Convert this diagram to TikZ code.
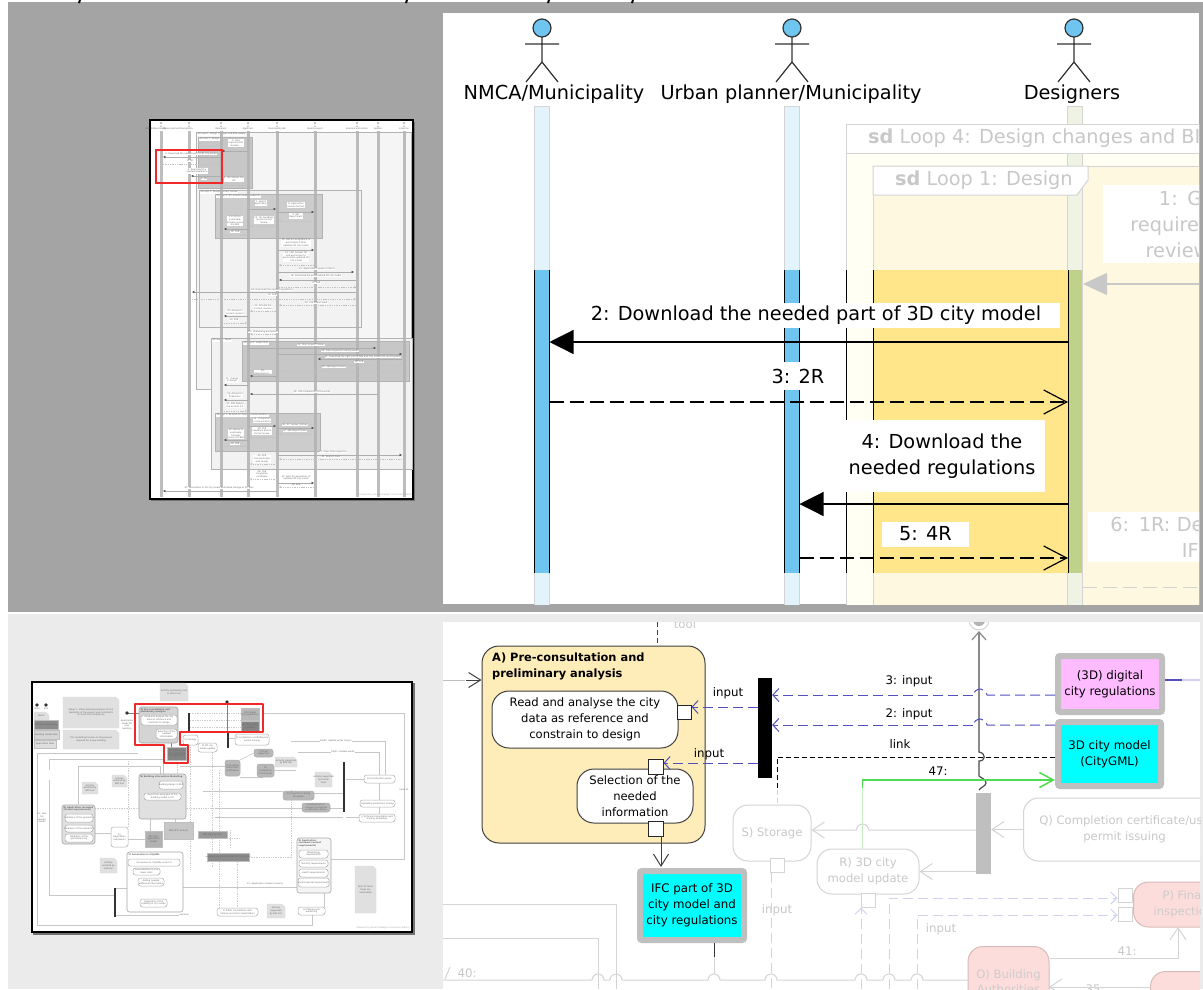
\documentclass[tikz,border=0pt]{standalone}
\usepackage{fontspec}
\setmainfont{DejaVu Sans}
\usetikzlibrary{arrows.meta,positioning,calc}
\definecolor{panelgray}{HTML}{A4A4A4}
\definecolor{lightpanel}{HTML}{EBEBEB}
\definecolor{lifeblue}{HTML}{6EC6F0}
\definecolor{paleblue}{HTML}{E3F3FB}
\definecolor{lifegreen}{HTML}{C0D28A}
\definecolor{palegreen}{HTML}{EEF3E3}
\definecolor{hotyellow}{HTML}{FFE68A}
\definecolor{paleyellow}{HTML}{FFF8E1}
\definecolor{paleframe}{HTML}{FFFFF3}
\definecolor{dimtext}{HTML}{C8C8C8}
\definecolor{dimline}{HTML}{D4D4D4}
\definecolor{groupfill}{HTML}{FEEDB8}
\definecolor{flowblue}{HTML}{5050C0}
\definecolor{paleflow}{HTML}{D0D0F4}
\definecolor{flowgreen}{HTML}{50DC50}
\definecolor{palegreenflow}{HTML}{C4F2C4}
\definecolor{paleread}{HTML}{FDDDDB}
\definecolor{thumbred}{HTML}{F02828}
\definecolor{datacyan}{RGB}{0,255,255}
\definecolor{datapink}{HTML}{FFBBFF}
\tikzset{
  thumbtext/.style={font=\fontsize{2.2}{2.7}\selectfont, text=black!60, align=center, inner sep=0.3pt, fill=white},
  thumbbare/.style={thumbtext, fill=none},
  thumbmsg/.style={draw=black!32, line width=0.7pt, -{Latex[length=2.4pt,width=2.6pt,black!70]}},
  thumbret/.style={draw=black!24, line width=0.6pt, dash pattern=on 1.4pt off 0.9pt, -{Straight Barb[length=1.5pt,width=2pt]}},
  thumbwire/.style={draw=black!22, line width=0.5pt},
  thumbdash/.style={draw=black!20, line width=0.5pt, dash pattern=on 1.4pt off 1pt},
  thumbact/.style={draw=black!32, line width=0.5pt, fill=white, rounded corners=2.5pt},
  thumbgrp/.style={draw=black!35, line width=0.6pt, fill=black!17, rounded corners=2.5pt},
  thumbnote/.style={draw=black!14, line width=0.3pt, fill=black!12},
  seqlabel/.style={font=\fontsize{19.3}{26}\selectfont, align=center, inner sep=0pt},
  labelbox/.style={fill=white},
  seqsolid/.style={draw=black, line width=1.2pt, -{Triangle[length=24pt,width=24pt]}},
  seqdash/.style={draw=black, line width=1.2pt, dash pattern=on 14pt off 6pt, -{Straight Barb[length=23pt,width=24pt]}},
  actbox/.style={draw=black!75, line width=1pt, fill=white, rounded corners=17pt, align=center, font=\fontsize{11.6}{16}\selectfont},
  dimbox/.style={draw=dimline, line width=1pt, fill=white, rounded corners=15pt, align=center, text=dimtext, font=\fontsize{11.6}{15.5}\selectfont},
  pinbox/.style={draw=black!85, line width=1pt, fill=white, minimum size=14pt, inner sep=0pt},
  dimpin/.style={pinbox, draw=dimline},
  datanode/.style={draw=black!25, line width=6pt, rounded corners=2pt, align=center, font=\fontsize{11.8}{16}\selectfont},
  flowlabel/.style={font=\fontsize{11.8}{14}\selectfont, inner sep=0pt},
  dimlabel/.style={flowlabel, text=dimtext},
  blueflow/.style={draw=flowblue, line width=1pt, dash pattern=on 10pt off 5pt, -{Straight Barb[length=6pt,width=13pt]}},
  paleflowline/.style={draw=paleflow, line width=1pt, dash pattern=on 10pt off 5pt},
  dimwire/.style={draw=dimline, line width=1pt},
  dimarrow/.style={dimwire, -{Straight Barb[length=12pt,width=16pt]}},
}
\begin{document}
\begin{tikzpicture}[x=1pt,y=-1pt]
\useasboundingbox (0,0) rectangle (1203,989);
\fill[white] (0,0) rectangle (1203,989);
% panels
\fill[panelgray] (8,2) rectangle (1203,612);
\fill[lightpanel] (8,614) rectangle (1203,989);
\foreach \tx in {80,407,549,633} \draw[line width=2pt] (\tx,0) -- (\tx-1,3);

% ---- small sequence page
\fill[black!55] (151,122) rectangle (415,501);
\draw[black, line width=2.5pt, fill=white] (150,120) rectangle (413,499);
\foreach \xa/\ya/\xb/\yb/\shade/\lab in {
  196/132/411/389/4/{sd Loop 4: Design changes and BIM update},
  199/190/361/327/5/{sd Loop 2: Design content review},
  211/338/412/469/5/{sd Loop 5: Works},
  198/137/252/188/22/{sd Loop 1: Design},
  215/194/322/238/20/{sd Loop 3: IFC formal review (evidence)},
  242/341/409/381/22/{sd Loop 6: Inspections},
  215/413/320/451/20/{sd Loop 7: as-built IFC formal review/validation}} {
  \draw[draw=black!30, line width=0.5pt, fill=black!\shade] (\xa,\ya) rectangle (\xb,\yb);
  \node[thumbtext, anchor=north west] at (\xa+1,\ya+0.6) {\lab};
}
\foreach \lx in {161,189,221,248,277,315,357,378,404} {
  \fill[black!30, opacity=0.85] (\lx-1.5,131) rectangle (\lx+1.5,497);
  \draw[black!35, line width=0.3pt, fill=white] (\lx,123) circle (0.9pt);
  \draw[black!35, line width=0.3pt] (\lx,124) -- (\lx,126) (\lx-1.3,127) -- (\lx,126) -- (\lx+1.3,127);
}
\foreach \lx/\lab in {156/{NMCA/Municipality},178/{Urban planner/Municipality},221/Designers,248/Applicant,277/{Municipality BE},315/{Quality expert},357/{External authorities},378/Builder,404/Inspector}
  \node[thumbbare] at (\lx,129) {\lab};
% solid messages
\foreach \my/\xa/\xb/\lx/\ly/\lab in {
  151/248/222/236/143/{1: Give\\requirements\\reviews ...},
  157/221/163/191/154/{2: Download the needed part of 3D city model},
  176/221/191/197/171/{4: Download the\\needed regulations},
  209/248/276/261/203/{7: submit\\application},
  212/278/314/296/205/{8: Application\\review (formal)},
  229/248/224/235/221/{11: Info to\\eventually\\formally revise\\the BIM},
  250/278/314/296/243/{13: Ask for acceptance to\\personalize 3 final\\updated 3D city model},
  272/278/354/317/269/{15: Application review (content)},
  280/356/279/316/276/{16: Download the personalized 3D city model},
  292/356/192/272/290/{18: Download the needed regulations},
  316/248/224/235/312/{22: Advise for\\content revision},
  348/248/376/311/345/{25: Start inspect. Works},
  354/278/402/340/351/{26: Plans inspection during works},
  359/402/318/363/357/{27: Download the right part of BIM and City model (IFC and CityGML)},
  376/277/250/263/372/{30:\\Amendments ...},
  385/248/224/232/380/{31: change\\in design},
  394/378/250/312/392/{32: 25R Completion of the works},
  400/248/224/235/395/{33: Advise for\\finalisation},
  426/248/276/262/420/{35: Completion\\communication},
  428/278/314/295/425/{36: IFC review (formal)},
  440/248/224/236/434/{39: Advise to\\eventually\\formally\\revise the BIM},
  455/278/402/333/452/{41: Plans final inspection},
  483/278/314/296/478/{45: Asks for generation of\\updated 3D city model},
  491/277/163/219/488/{47: Generation of 3D city model and linked storage of IFC files}} {
  \draw[thumbmsg] (\xa,\my) -- (\xb,\my);
  \node[thumbtext] at (\lx,\ly) {\lab};
}
% dashed replies
\foreach \my/\xa/\xb/\lx/\ly/\lab in {
  164/163/221/190/161/{3: 2R},
  182/191/221/204/179/{5: 4R},
  185/222/247/234/179/{6: 1R: Deliver the\\IFC},
  221/314/279/296/216/{9: 8R:\\Report back},
  226/276/250/264/220/{10: 7R: Feedback\\and its formal\\review},
  235/224/246/235/232/{12: 11R},
  265/314/279/296/257/{14: 13R: Answer OK\\and permission to\\personalize updated 3D\\city model},
  287/279/356/316/283/{17: 16R},
  299/192/356/272/295/{19: 18R},
  305/356/279/316/303/{20: 15R Report back},
  311/278/250/263/307/{21: Provide the\\content revision},
  323/224/247/234/320/{23: 22R},
  334/278/250/263/332/{24: 7R Building permission},
  365/318/402/359/362/{28: 27R},
  371/402/280/334/367/{29: 26R Reports back},
  411/224/247/235/405/{34: 33R Deliver\\the as-built IFC},
  434/314/279/295/431/{37: 36R Reports back},
  437/276/250/262/431/{38: 35R\\Feedback and its\\formal review},
  446/224/247/235/444/{40: 39R},
  459/402/279/331/457/{42: Reports back},
  464/277/250/262/459/{43: 41R\\Communicates\\with design},
  479/277/250/262/474/{44: 35R\\completion\\certificate},
  487/314/279/296/485/{46: 45R}} {
  \draw[thumbret] (\xa,\my) -- (\xb,\my);
  \node[thumbtext] at (\lx,\ly) {\lab};
}
\node[thumbbare, text=black!35] (seqfoot) at (386,495) {Powered by Visual Paradigm Community Edition};
\draw[thumbred, line width=1.2pt] (156,150) rectangle (222,183);

% ---- zoomed sequence view
\begin{scope}
\clip (443,13) rectangle (1199,604);
\fill[white] (443,13) rectangle (1199,604);
\draw[dimline, fill=paleframe] (846,124) rectangle (1210,620);
\draw[dimline, fill=paleyellow] (873,166) rectangle (1210,620);
\foreach \lx/\bar/\edge in {542/paleblue/dimline,792/paleblue/dimline,1075/palegreen/dimline}
  \draw[\edge, fill=\bar] (\lx-7.5,106) rectangle (\lx+7.5,610);
% loop headers
\draw[dimline, line width=1pt, fill=white] (846,124) rectangle (1210,153);
\node[dimlabel, font=\fontsize{19.3}{22}\selectfont, anchor=west] (loopfour) at (868,138) {\textbf{sd} Loop 4: Design changes and BIM update};
\draw[dimline, line width=1pt, fill=white] (873,166) -- (1088,166) -- (1088,180) -- (1077,195) -- (873,195) -- cycle;
\node[dimlabel, font=\fontsize{19.3}{22}\selectfont, anchor=west] (loopone) at (895,180) {\textbf{sd} Loop 1: Design};
% active part of the picture
\fill[white] (443,270) rectangle (846,573);
\fill[paleframe] (846,270) rectangle (873,573);
\fill[hotyellow] (873,270) rectangle (1068,573);
\fill[lifeblue] (534.5,270) rectangle (549.5,573);
\fill[lifeblue] (784.5,270) rectangle (799.5,573);
\draw[black, line width=1.2pt] (534.5,270) -- (534.5,573) (549.5,270) -- (549.5,573) (784.5,270) -- (784.5,573) (799.5,270) -- (799.5,573);
\fill[lifegreen] (1068,270) rectangle (1082,573);
\draw[black, line width=1pt] (846,270) -- (846,573) (873,270) -- (873,573) (1068,270) -- (1068,573);
% dimmed messages
\node[seqlabel, labelbox, text=dimtext, text width=184pt, inner ysep=6pt] (msgone) at (1195,224) {1: Give\\requirements\\reviews ...};
\draw[dimtext, line width=1.2pt, -{Triangle[length=24pt,width=22pt]}] (1210,284) -- (1083,284);
\node[seqlabel, labelbox, text=dimtext, text width=218pt, inner ysep=5pt] (msgsix) at (1197,537) {6: 1R: Deliver the\\IFC};
\draw[dimline, line width=1pt, dash pattern=on 14pt off 6pt] (1083,587) -- (1210,587);
% messages in colour
\coordinate (nmcaend) at (549.5,342);
\coordinate (planend) at (799.5,504);
\draw[seqsolid] (1068,342) -- (nmcaend);
\draw[seqdash] (549.5,402) -- (1068,402);
\draw[seqsolid] (1068,504) -- (planend);
\draw[seqdash] (799.5,558) -- (1068,558);
\node[seqlabel, labelbox, minimum width=488pt, minimum height=25pt] (msgtwo) at (816,315) {2: Download the needed part of 3D city model};
\node[seqlabel, labelbox, minimum width=60pt, minimum height=28pt] (msgthree) at (798,376) {3: 2R};
\node[seqlabel, labelbox, minimum width=206pt, minimum height=72pt] (msgfour) at (942,456) {4: Download the\\needed regulations};
\node[seqlabel, labelbox, minimum width=87pt, minimum height=25pt] (msgfive) at (925.5,534) {5: 4R};
% actors
\foreach \ax in {542,792,1074} {
  \draw[black!80, line width=1.2pt, fill=lifeblue] (\ax,28) circle (9pt);
  \draw[black!80, line width=1.2pt] (\ax,37) -- (\ax,62) (\ax-17,44) -- (\ax+17,44) (\ax-16,82) -- (\ax,62) -- (\ax+16,82);
}
\node[seqlabel] (nmca) at (554,94) {NMCA/Municipality};
\node[seqlabel] (planner) at (791,94) {Urban planner/Municipality};
\node[seqlabel] (designers) at (1072,94) {Designers};
\end{scope}

% ---- small activity page
\fill[black!55] (33,683) rectangle (415,935);
\draw[black, line width=2.2pt, fill=white] (32,682) rectangle (412,932);
% wires
\foreach \pts in {
  {(49,770)--(49,759)--(163,759)--(163,774)},
  {(78,804)--(78,766)--(160,766)--(160,774)},
  {(37,753)--(37,925)--(312,925)--(312,915)},
  {(37,753)--(138,753)},
  {(49,780)--(49,895)--(114,895)},
  {(180,766)--(230,766)},
  {(263,713)--(404,713)--(404,859)--(331,859)},
  {(298,752)--(379,752)--(379,775)},
  {(291,741)--(385,741)--(385,775)},
  {(379,783)--(379,800)},{(379,807)--(379,814)},
  {(346,779)--(364,779)},{(330,808)--(343,808)},{(346,817)--(359,817)},{(314,793)--(343,793)},
  {(215,808)--(302,808)},{(215,817)--(343,817)},
  {(183,887)--(297,887)},{(324,887)--(324,907)},
  {(95,833)--(111,833)},{(128,839)--(145,839)},
  {(150,817)--(150,831)},{(175,808)--(175,822)},
  {(114,915)--(183,915)},{(116,888)--(127,888)},
  {(263,777)--(240,777)},{(254,753)--(240,760)},{(229,738)--(235,738)},
  {(203,791)--(283,791)},{(274,770)--(296,770)}} \draw[thumbwire] \pts;
\foreach \pts in {
  {(190,747)--(190,870)},{(212,750)--(212,867)},{(219,770)--(219,908)},
  {(177,762)--(177,774)},{(95,808)--(215,808)},
  {(249,857)--(291,857)--(291,790)},{(230,848)--(230,830)},{(237,862)--(237,908)},
  {(128,827)--(128,760)},{(198,838)--(240,838)},
  {(190,713)--(241,713)},{(190,720)--(241,720)},{(190,727)--(241,727)}} \draw[thumbdash] \pts;
\draw[black!50, line width=0.5pt] (227,702) -- (227,733) (127,713) -- (139,713) (171,743) -- (171,747);
% notes
\foreach \xa/\ya/\xb/\yb/\lab in {
  63/697/119/728/{Stage 1: Urban planning analysis for the\\feasibility of the project and constraints\\to check the compliance},
  63/730/119/749/{This modelling focuses on the process\\required for a new building},
  160/683/188/701/{Activity assisted by GIS\\or other tool},
  34/712/49/720/{Notes},
  315/772/332/787/{Activity supported\\by formal\\tools},
  275/757/297/767/{Activity supported\\by BIM tool},
  355/866/376/913/{Parts of these\\steps are\\automated},
  267/904/285/918/{Activity\\supported\\by GIS tool},
  100/858/117/873/{Activity\\assisted by\\GIS tool},
  82/782/98/794/{Activity\\assisted by\\BIM tool},
  112/775/127/787/{Activity\\assisted by\\BIM tool}} {
  \draw[thumbnote] (\xa,\ya) -- (\xb-3,\ya) -- (\xb,\ya+3) -- (\xb,\yb) -- (\xa,\yb) -- cycle;
  \path (\xa,\ya) -- node[thumbbare]{\lab} (\xb,\yb);
}
% data blocks
\foreach \xa/\ya/\xb/\yb/\shade/\lab in {
  34/720/58/729/45/{BIM (3D) model data},
  34/730/59/739/16/{Building model data},
  34/740/56/748/13/{Application data},
  167/747/186/760/48/{IFC part of 3D\\city model and\\city regulations},
  241/708/259/720/28/{(3D) digital\\city regulations},
  241/721/259/732/48/{3D city model\\(CityGML)},
  164/822/193/839/22/{BIM (IFC) as built},
  145/831/162/847/30/{BIM (IFC)\\application\\model},
  198/831/227/838/40/{BIM (IFC) as built},
  207/853/249/861/45/{updated and personalized 3D city model}} {
  \draw[draw=black!25, line width=0.7pt, fill=black!\shade] (\xa,\ya) rectangle (\xb,\yb);
  \path (\xa,\ya) -- node[thumbbare]{\lab} (\xb,\yb);
}
% groups
\foreach \xa/\ya/\xb/\yb/\fillval in {
  139/707/178/743/17,
  139/774/186/819/12,
  62/805/95/844/12,
  127/852/183/912/0,
  297/838/331/893/4}
  \draw[thumbgrp, fill=black!\fillval] (\xa,\ya) rectangle (\xb,\yb);
\node[thumbbare, anchor=north west, align=left] (grpa) at (140,708) {\textbf{A) Pre-consultation and}\\\textbf{preliminary analysis}};
\node[thumbbare, anchor=north west, align=left] (grpb) at (140,775) {\textbf{B) Building information Modelling}};
\node[thumbbare, anchor=north west, align=left] (grpd) at (63,806) {\textbf{D) Application reviewed}\\\textbf{(formal requirements)}};
\node[thumbbare, anchor=north west, align=left] (grpc) at (128,853) {\textbf{C) Generation in CityGML}};
\node[thumbbare, anchor=north west, align=left] (grpg) at (298,839) {\textbf{G) Application}\\\textbf{reviewed (content}\\\textbf{requirements)}};
% activities
\foreach \xa/\ya/\xb/\yb/\shade/\lab in {
  141/715/177/725/0/{Read and analyse the city\\data as reference and\\constrain to design},
  156/729/177/739/0/{Selection of the\\needed\\information},
  159/781/183/789/0/{Building design in BIM},
  144/793/181/800/0/{Export the used part of the\\building model in IFC},
  65/814/93/822/0/{Validation of the geometry},
  65/825/93/832/0/{Validation of the semantics},
  65/834/93/842/0/{Validation of the\\georeferencing},
  111/827/128/847/0/{E)\\Application\\submission},
  128/859/180/866/0/{Conversion to CityGML+LoD 3.0},
  133/868/160/875/0/{Generalization to the\\lower LoDs},
  138/878/164/886/0/{Adding needed\\additional information},
  140/899/167/907/0/{Integration of the\\building in city model},
  183/735/198/745/0/{S) Storage},
  198/743/217/752/0/{R) 3D city\\model update},
  235/734/269/745/0/{Q) Completion certificate/use\\permit issuing},
  254/749/273/757/28/{P) Final\\inspection},
  225/760/240/776/28/{O) Building\\Authorities\\notification},
  257/764/274/777/28/{N)\\Completion\\of the works},
  283/791/314/800/28/{M) Inspections during\\the works},
  302/803/330/812/28/{L) Refinement in\\changes throughout\\construction phase},
  364/775/395/783/0/{K) Construction works},
  360/800/395/807/0/{Uploading permission issuing},
  359/814/395/822/0/{J) Technical consultation and\\starting formalities},
  299/850/328/858/0/{Morphology\\requirements},
  299/860/328/867/0/{Security requirements},
  299/869/328/877/0/{Health requirements},
  298/878/329/887/0/{Environmental requirements},
  298/907/325/915/0/{H) Missing and\\publishing},
  217/908/258/916/0/{F) Public consultation with\\citizens and other stakeholders}} {
  \draw[thumbact, fill=black!\shade] (\xa,\ya) rectangle (\xb,\yb);
  \path (\xa,\ya) -- node[thumbbare]{\lab} (\xb,\yb);
}
% bars, start and end
\foreach \xa/\ya/\xb/\yb in {188/713/190/731,227/733/229/748,343/762/345/812,114/888/116/917}
  \fill[black!80] (\xa,\ya) rectangle (\xb,\yb);
\foreach \sx/\sy in {37/705,46/705,127/713,227/702}
  \fill[black!80] (\sx,\sy) circle (1.8pt);
\node[thumbbare] (startlab) at (127,725) {Application\\needs for\\new\\building};
\node[thumbbare] (startkey) at (37,709) {Start};
\node[thumbbare] (endkey) at (46,709) {End};
\node[thumbbare] (dlabel) at (42,818) {11: 10a:\\Yes\\regular\\model};
\node[thumbbare] (thumbinput) at (404,790) {input 55};
\node[thumbtext] at (265,884) {21: Application review (content)};
\node[thumbtext] at (336,741) {48/47: Update works (long 1};
\node[thumbtext] at (343,752) {50/51: Update works};
\node[thumbtext] at (184,915) {optional};
\node[thumbbare, text=black!35] (actfoot) at (383,928) {Powered by Visual Paradigm Community Edition};
\draw[thumbred, line width=1.4pt, line join=round] (135,704) -- (263,704) -- (263,732) -- (180,732) -- (180,745) -- (188,745) -- (188,763) -- (164,763) -- (164,745) -- (135,745) -- cycle;

% ---- zoomed activity view
\begin{scope}
\clip (443,622) rectangle (1200,989);
\fill[white] (443,622) rectangle (1200,989);
\node[dimlabel] (toollab) at (685,624) {tool};
% dimmed wires
\draw[dimwire] (443,904) -- (616,904) -- (616,989);
\draw[dimwire] (443,938) -- (598,938) -- (598,989);
\draw[dimwire] (443,980) -- (592,980) arc (180:360:6) -- (610,980) arc (180:360:6) -- (708,980) arc (180:360:6) -- (765,980) arc (180:360:6) -- (855,980) arc (180:360:6) -- (883,980) arc (180:360:6) -- (911,980) arc (180:360:6) -- (968,980);
\node[dimlabel] (fortylab) at (467,973) {40:};
\draw[dimline, line width=1pt] (450,967) -- (445,979);
\node[dimlabel] (inputs) at (777,910) {input};
\node[dimlabel] (inputp) at (941,929) {input};
\node[dimlabel] (fortyone) at (1127,951) {41:};
\node[dimlabel] (thirtyfive) at (1095,989) {35:};
% boxes that are dimmed
\node[dimbox, minimum width=78pt, minimum height=56pt] (storage) at (772,833) {S) Storage};
\node[dimbox, minimum width=102pt, minimum height=45pt] (update) at (868,871.5) {R) 3D city\\model update};
\node[dimbox, minimum width=202pt, minimum height=63pt, anchor=west] (certif) at (1023,829.5) {Q) Completion certificate/use\\permit issuing};
\node[dimbox, draw=paleread!85!black, fill=paleread, minimum width=100pt, minimum height=45pt, anchor=west, text=black!20] (finalinsp) at (1133,904.5) {P) Final\\inspection};
\node[dimbox, draw=paleread!85!black, fill=paleread, minimum width=81pt, minimum height=70pt, anchor=north, text=black!20] (authority) at (1008.5,946) {O) Building\\Authorities};
\node[dimbox, draw=paleread!85!black, fill=paleread, minimum width=90pt, minimum height=50pt, anchor=north west] (nextbox) at (1150,971) {};
\node[dimpin] (storepin) at (777,865.5) {};
\node[dimpin] (updatepin) at (868.5,900) {};
\node[dimpin] (finalpina) at (1125,895) {};
\node[dimpin] (finalpinb) at (1125,914.5) {};
\coordinate (flowbase) at (861,989);
\draw[paleflowline] (771,873) -- (771,989);
\draw[paleflowline, -{Straight Barb[length=6pt,width=12pt]}] (flowbase) -- (flowbase |- updatepin.south);
\draw[paleflowline, -{Straight Barb[length=6pt,width=12pt]}] (889,989) -- (889,898) -- (finalpina.west |- 889,898);
\draw[paleflowline, -{Straight Barb[length=6pt,width=12pt]}] (917,989) -- (917,915) -- (finalpinb.west |- 917,915);
\draw[dimarrow] (authority.east |- 1049,958) -- (1178,958) -- (1178,927);
\draw[dimarrow] (1150,987) -- (1049,987);
\fill[black!25] (976,793) rectangle (991,874);
\node[inner sep=0pt, minimum width=15pt, minimum height=81pt] (grayjoin) at (983.5,833.5) {};
\draw[dimarrow] (certif.west) -- (grayjoin.east |- certif.west);
\draw[dimarrow] (grayjoin.west |- 976,830) -- (868.5,830) arc (0:-180:6) -- (storage.east |- 976,830);
\draw[dimarrow] (grayjoin.west |- update.east) -- (update.east);
\draw[palegreenflow, line width=1.5pt] (update.north -| 862.5,849) -- (862.5,788);
% end node and the line to it
\draw[dimline, line width=1pt] (979,620) circle (10pt);
\fill[black!30] (979,620) circle (6pt);
\coordinate (endnode) at (979,631);
\draw[black!70, line width=1.2pt] (979,790) .. controls (981,787) and (986,786) .. (986,783) .. controls (986,779) and (981,778) .. (979,776)
  -- (979,761) .. controls (986,761) and (986,753) .. (979,752) -- (979,640);
\draw[black!45, line width=1.2pt, -{Straight Barb[length=8pt,width=14pt]}] (979,640) -- (endnode);
% coloured part
\node[draw=black!75, line width=1pt, fill=groupfill, rounded corners=17pt, minimum width=223pt, minimum height=197pt, inner sep=0pt] (preconsult) at (593.5,744.5) {};
\node[anchor=north west, align=left, inner sep=0pt, font=\fontsize{11.4}{16}\selectfont\bfseries] (preconsulttitle) at (492,652.5) {A) Pre-consultation and\\preliminary analysis};
\node[actbox, minimum width=186pt, minimum height=57pt] (readdata) at (585,719.5) {Read and analyse the city\\data as reference and\\constrain to design};
\node[actbox, minimum width=116pt, minimum height=54pt] (selectinfo) at (635,796) {Selection of the\\needed\\information};
\node[pinbox] (readpin) at (684,712.5) {};
\node[pinbox, minimum size=15pt] (selpin) at (655.5,766.5) {};
\node[pinbox, minimum size=15pt] (selout) at (655.5,828.5) {};
\node[datanode, fill=datacyan, minimum width=104pt, minimum height=69pt, inner sep=0pt] (ifcpart) at (692,905.5) {IFC part of 3D\\city model and\\city regulations};
\node[datanode, fill=datapink, minimum width=104pt, minimum height=56pt, inner sep=0pt] (regs) at (1110,684) {(3D) digital\\city regulations};
\node[datanode, fill=datacyan, minimum width=103pt, minimum height=64pt, inner sep=0pt] (citymodel) at (1109.5,754) {3D city model\\(CityGML)};
\fill[black] (758,678) rectangle (772,778);
\node[inner sep=0pt, minimum width=14pt, minimum height=100pt] (blackjoin) at (765,728) {};
\coordinate (startfree) at (443,680);
\draw[black!25, line width=1pt] (startfree) -- (465,680);
\draw[black!75, line width=1pt, -{Straight Barb[length=12pt,width=15pt]}] (466,680) -- (preconsult.west |- 466,680);
\draw[black!75, line width=1pt, -{Straight Barb[length=12pt,width=15pt]}] (661,836) -- (661,867);
\draw[black!80, line width=1pt] (ifcpart.south -| 714.5,944) -- (714.5,957);
\draw[dimwire] (714.5,957) -- (714.5,974);
\draw[blueflow] (blackjoin.west |- 758,707) -- (readpin.north east |- 758,707);
\draw[blueflow] (blackjoin.west |- 758,763) -- ([yshift=3.5pt]selpin.east);
\draw[flowblue, line width=1pt, dash pattern=on 10pt off 5pt] (regs.west |- 1055,695) -- (987,695) .. controls (986,687) and (975,687) .. (973,695);
\draw[blueflow] (973,695) -- (blackjoin.east |- 973,695);
\draw[flowblue, line width=1pt, dash pattern=on 10pt off 5pt] (citymodel.west |- 1055,725) -- (987,725) .. controls (986,717) and (975,717) .. (973,725);
\draw[blueflow] (973,725) -- (blackjoin.east |- 973,725);
\draw[black, line width=1pt, dash pattern=on 5pt off 3pt] (citymodel.west |- 1055,757) -- (777,757) -- (777,790);
\draw[dimline, line width=1pt, dash pattern=on 5pt off 3pt] (777,790) -- (storage.north -| 777,805);
\draw[flowgreen, line width=1.5pt, -{Straight Barb[length=14pt,width=15pt]}] (862.5,788) -- (862.5,780) -- (citymodel.west |- 862,780);
\draw[flowblue, line width=1.2pt] (regs.east |- 1165,680) -- (1182,680);
\draw[paleflow, line width=1.2pt] (1182,680) -- (1200,680);
\node[flowlabel] (inputa) at (728,693) {input};
\node[flowlabel] (inputb) at (709,754) {input};
\node[flowlabel] (inputthree) at (909,681) {3: input};
\node[flowlabel] (inputtwo) at (909,714) {2: input};
\node[flowlabel] (linklab) at (900,744) {link};
\node[flowlabel] (greenlab) at (938,771) {47:};
\draw[black!75, line width=1pt, dash pattern=on 5pt off 3pt] (657,622) -- (657,646);
\end{scope}
\end{tikzpicture}
\end{document}
